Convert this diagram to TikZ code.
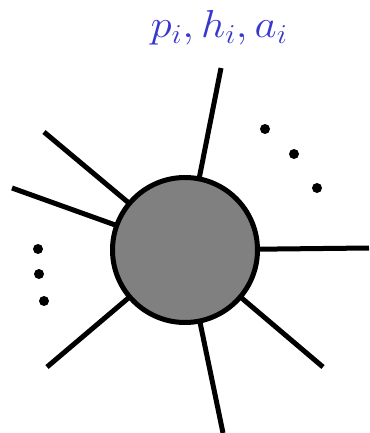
\documentclass[tikz,border=0pt]{standalone}
\usepackage{fix-cm}
\usepackage{amsmath}
\usepackage{amssymb}
\definecolor{labelblue}{RGB}{55,55,205}

\begin{document}
\begin{tikzpicture}[x=1pt, y=-1pt, leg/.style={line width=5pt}, every node/.style={font=\fontsize{39}{44}\selectfont}]
        \useasboundingbox (0,0) rectangle (369,433);
        \node[circle, draw, line width=5pt, fill=black!50, minimum size=145pt, inner sep=0pt, outer sep=0pt] (blob) at (185,250) {};
        % outer ends of the legs
        \coordinate (e1) at (221,68);
        \coordinate (e2) at (44,132);
        \coordinate (e3) at (12,188);
        \coordinate (e4) at (369,248);
        \coordinate (e5) at (323,367);
        \coordinate (e6) at (223,433);
        \coordinate (e7) at (47,367);
        \foreach \e in {e1,e2,e3,e4,e5,e6,e7}
            \draw[leg] (blob) -- (\e);
        \node[text=labelblue, xscale=1.1, anchor=base, inner sep=0pt] (lbl) at (219,38) {$p_i, h_i, a_i$};
        % the dots
        \foreach \p in {(265,129),(294,154),(317,188),(38,249),(39,274),(44,301)}
            \fill \p circle (5pt);
    \end{tikzpicture}
\end{document}
